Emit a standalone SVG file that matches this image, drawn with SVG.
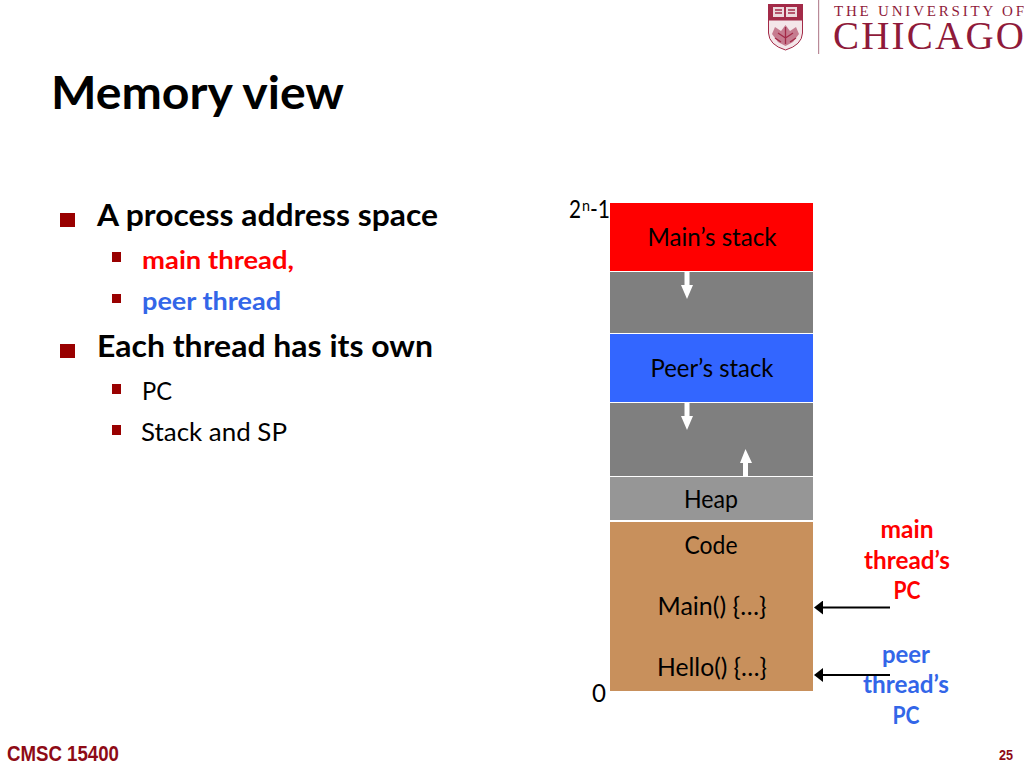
<svg xmlns="http://www.w3.org/2000/svg" width="1024" height="768" viewBox="0 0 1024 768">
<style>
text{font-family:"Lato","Carlito","Open Sans",sans-serif;fill:#000}
.b{font-weight:700}
.t{font-size:30px;font-weight:700}
.s{font-size:25px}
.c{text-anchor:middle}
.red{fill:#f00}
.blue{fill:#3366e8}
.blk{fill:#fff;stroke:none}
.bul{fill:#990000}
.logo{font-family:"Liberation Serif","Times New Roman",serif;fill:#8f1a3a}
.foot{font-family:"Liberation Sans",sans-serif;font-weight:700;fill:#8e0b16}
.pc{fill:none;stroke:#a32a48;stroke-width:1.300}
</style>
<defs>
<marker id="ah" markerUnits="userSpaceOnUse" markerWidth="10" markerHeight="14" refX="0" refY="7" orient="auto"><path d="M0 0L9 7L0 14Z" fill="#000"/></marker>
</defs>
<rect width="1024" height="768" fill="#fff"/>
<g id="logo">
<rect x="768" y="4" width="35" height="16" fill="#a32a48"/>
<rect x="773" y="7" width="11" height="10" fill="#ecd9dd"/>
<rect x="786" y="7" width="11" height="10" fill="#ecd9dd"/>
<path class="pc" d="M775 10H782M775 13H782M788 10H795M788 13H795"/>
<path d="M768.500 20H802.500V33Q802 45 785.500 50Q769 45 768.500 33Z" fill="#f4e6e9" stroke="#a32a48"/>
<path d="M785.500 25L781 31L775 27L772 34L778 42L785.500 46L793 42L799 34L796 27L790 31Z" fill="#c67c90"/>
<path class="pc" d="M785.500 27V44M778 33L785.500 38L793 33M775 38L781 42M796 38L790 42"/>
<rect x="818" y="0" width="1.200" height="54" fill="#b98a98"/>
<text class="logo" x="834" y="15.500" font-size="15" textLength="190" lengthAdjust="spacing">THE UNIVERSITY OF</text>
<text class="logo" x="833" y="49" font-size="39" textLength="191" lengthAdjust="spacing">CHICAGO</text>
</g>
<g id="title"><text x="51" y="109" class="b" font-size="46" textLength="293" lengthAdjust="spacingAndGlyphs">Memory view</text></g>
<g id="bullets">
<rect class="bul" x="60" y="213" width="15" height="14"/>
<text class="t" x="97" y="226" textLength="341" lengthAdjust="spacingAndGlyphs">A process address space</text>
<rect class="bul" x="112" y="252" width="9" height="10"/>
<text class="s b red" x="142" y="269" textLength="152" lengthAdjust="spacingAndGlyphs">main thread,</text>
<rect class="bul" x="112" y="294" width="9" height="9"/>
<text class="s b blue" x="142" y="310" textLength="139" lengthAdjust="spacingAndGlyphs">peer thread</text>
<rect class="bul" x="60" y="344" width="15" height="14"/>
<text class="t" x="97" y="357" textLength="336" lengthAdjust="spacingAndGlyphs">Each thread has its own</text>
<rect class="bul" x="112" y="384" width="9" height="10"/>
<text class="s" x="142" y="400" textLength="30" lengthAdjust="spacingAndGlyphs">PC</text>
<rect class="bul" x="112" y="425" width="9" height="10"/>
<text class="s" x="141" y="441" textLength="146" lengthAdjust="spacingAndGlyphs">Stack and SP</text>
</g>
<g id="main-stack"><rect x="610" y="203" width="203" height="68" fill="#f00"/><text class="s c" x="712" y="246" textLength="129" lengthAdjust="spacingAndGlyphs">Main’s stack</text></g>
<g id="gap-1"><rect x="610" y="272" width="203" height="61" fill="#7f7f7f"/></g>
<g id="peer-stack"><rect x="610" y="334" width="203" height="68" fill="#3366ff"/><text class="s c" x="712" y="377" textLength="123" lengthAdjust="spacingAndGlyphs">Peer’s stack</text></g>
<g id="gap-2"><rect x="610" y="403" width="203" height="73" fill="#7f7f7f"/></g>
<g id="heap"><rect x="610" y="477" width="203" height="43" fill="#969696"/><text class="s c" x="711" y="508" textLength="54" lengthAdjust="spacingAndGlyphs">Heap</text></g>
<g id="code"><rect x="610" y="522" width="203" height="169" fill="#c8905c"/>
<text class="s c" x="711" y="554" textLength="53" lengthAdjust="spacingAndGlyphs">Code</text>
<text class="s c" x="712" y="615" textLength="109" lengthAdjust="spacingAndGlyphs">Main() {…}</text>
<text class="s c" x="712" y="676" textLength="110" lengthAdjust="spacingAndGlyphs">Hello() {…}</text></g>
<g id="addr-top"><text class="s" x="569" y="218" textLength="12" lengthAdjust="spacingAndGlyphs">2</text><text x="582" y="211" font-size="16" textLength="8" lengthAdjust="spacingAndGlyphs">n</text><text class="s" x="590" y="218" textLength="20" lengthAdjust="spacingAndGlyphs">-1</text></g>
<g id="addr-zero"><text class="s" x="592" y="702" textLength="14" lengthAdjust="spacingAndGlyphs">0</text></g>
<g id="main-pc"><text class="s c red b" x="907" y="538" textLength="53" lengthAdjust="spacingAndGlyphs">main</text><text class="s c red b" x="907" y="569" textLength="86" lengthAdjust="spacingAndGlyphs">thread’s</text><text class="s c red b" x="907" y="599" textLength="27" lengthAdjust="spacingAndGlyphs">PC</text></g>
<g id="peer-pc"><text class="s c blue b" x="906" y="663" textLength="48" lengthAdjust="spacingAndGlyphs">peer</text><text class="s c blue b" x="906" y="693" textLength="86" lengthAdjust="spacingAndGlyphs">thread’s</text><text class="s c blue b" x="906" y="724" textLength="27" lengthAdjust="spacingAndGlyphs">PC</text></g>
<g id="connectors">
<path class="blk" d="M684.500 272H689.500V285H693L687 299L681 285H684.500Z"/>
<path class="blk" d="M684.500 403H689.500V416H693L687 430L681 416H684.500Z"/>
<path class="blk" d="M743 476H748V463H752L745.500 449L740 463H743Z"/>
<line x1="890" y1="607.500" x2="823" y2="607.500" stroke="#000" stroke-width="2" marker-end="url(#ah)"/>
<line x1="890" y1="675" x2="823" y2="675" stroke="#000" stroke-width="2" marker-end="url(#ah)"/>
</g>
<g id="footer"><text class="foot" x="7" y="761" font-size="22" textLength="112" lengthAdjust="spacingAndGlyphs">CMSC 15400</text>
<text class="foot" x="999" y="760" font-size="14" textLength="14" lengthAdjust="spacingAndGlyphs">25</text></g>
</svg>
